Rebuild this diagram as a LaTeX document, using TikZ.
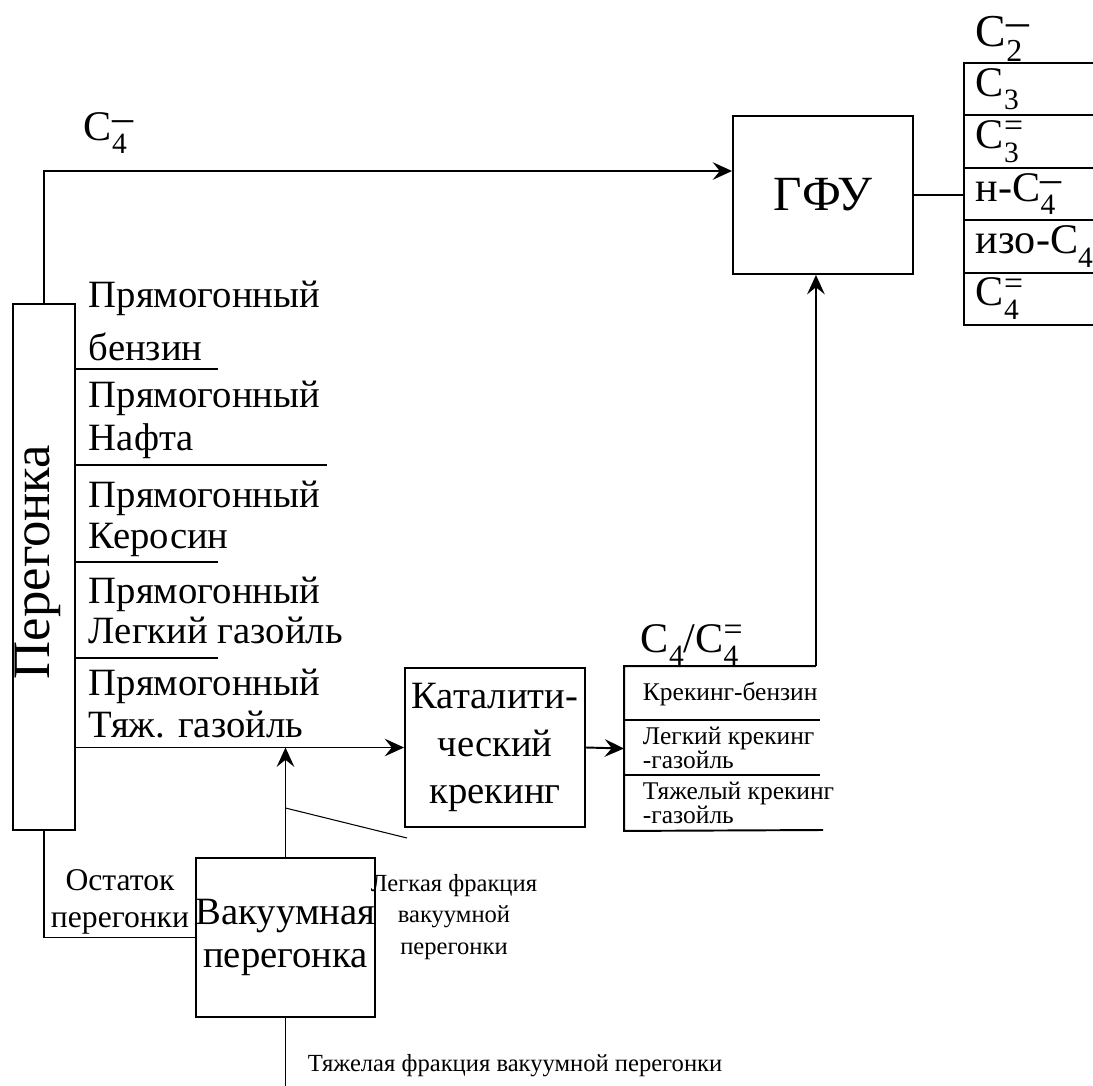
\documentclass[tikz,border=0pt]{standalone}
\usepackage{fontspec}
\usepackage{graphicx}
\setmainfont{Liberation Serif}
\usetikzlibrary{arrows.meta}

\newcommand{\Cs}[1]{C\raisebox{-0.33em}{\scalebox{0.7}{#1}}}
\newcommand{\Cf}[2]{C\rlap{\raisebox{0.2em}{#2}}\raisebox{-0.33em}{\scalebox{0.7}{#1}}}
\newcommand{\eq}{\raisebox{0.08em}{\scalebox{0.8}{=}}}

\begin{document}
\begin{tikzpicture}[
	x=0.02cm, y=-0.02cm,
	line width=1.1pt,
	box/.style={draw, rectangle, inner sep=0pt, align=center, font=\fontsize{22}{27}\selectfont},
	lbl/.style={anchor=base west, inner sep=0pt, font=\fontsize{22}{26}\selectfont},
	chem/.style={anchor=base west, inner sep=0pt, font=\fontsize{24}{28}\selectfont},
	listrow/.style={draw, anchor=west, minimum height=1.048cm, text width=2.6cm, inner xsep=0.24cm, inner ysep=0pt, align=left, font=\fontsize{24}{28}\selectfont},
	small/.style={inner sep=0pt, align=center, font=\fontsize{14}{18}\selectfont},
	prodtxt/.style={anchor=west, inner sep=0pt, align=left, font=\fontsize{14.5}{14}\selectfont},
	flow/.style={-{Stealth[length=11pt,width=10pt,inset=4pt]}},
	leader/.style={line width=0.6pt}
	]
	\useasboundingbox (0,0) rectangle (1093,1086);

	% Перегонка и прямогонные фракции
	\node[box, minimum width=1.24cm, minimum height=10.52cm] (pereg) at (44,567) {};
	\node[rotate=90, inner sep=0pt, font=\fontsize{30}{30}\selectfont] (peregtxt) at (38,562) {Перегонка};
	\foreach \t/\y [count=\i] in {Прямогонный/307, бензин/360, Прямогонный/407, Нафта/450, Прямогонный/507, Керосин/548, Прямогонный/603, Легкий газойль/643, Прямогонный/695, Тяж. газойль/737}
		\node[lbl] (s\i) at (88,\y) {\t};
	\foreach \y/\xe in {369/218, 465/327, 562/218, 658/218}
		\draw (75,\y) -- (\xe,\y);

	% ГФУ и её продукты
	\node[box, minimum width=3.6cm, minimum height=3.16cm, font=\fontsize{28}{30}\selectfont] (gfu) at (823,195) {ГФУ};
	\draw[flow] (pereg.north) |- ([yshift=0.48cm]gfu.west);
	\node[chem] (c4) at (83,140) {\Cf{4}{–}};
	\node[chem, font=\fontsize{26}{28}\selectfont] (c2) at (975,46) {\Cf{2}{–}};
	\foreach \t [count=\i] in {\Cs{3}, \Cf{3}{\eq}, н-\Cf{4}{–}, изо-\Cs{4}, \Cf{4}{\eq}}
		\node[listrow] (r\i) at (963,{89.2+(\i-1)*52.4}) {\t};
	\draw (gfu.east) -- (gfu.east -| r3.west);

	% Каталитический крекинг
	\node[box, minimum width=3.6cm, minimum height=3.18cm] (crack) at (495,747.5) {Каталити-\\ческий\\крекинг};
	\draw[flow] (pereg.east |- crack.west) -- (crack.west);
	\node[minimum width=3.8cm, minimum height=3.26cm, inner sep=0pt] (prod) at (720,748.5) {};
	\draw[flow] (crack.east) -- (prod.west);
	\draw (prod.north east) -- (prod.north west) -- (prod.south west) -- (823,830);
	\draw (625,720) -- (820,720) (625,775) -- (820,775);
	\draw[flow] (prod.north east) -- (prod.north east |- gfu.south);
	\node[chem] (c4c4) at (640,652) {\Cs{4}/\Cf{4}{\eq}};
	\node[prodtxt] (p1) at (642,694) {Крекинг-бензин};
	\node[prodtxt] (p2) at (642,748) {Легкий крекинг\\-газойль};
	\node[prodtxt] (p3) at (642,803) {Тяжелый крекинг\\-газойль};

	% Вакуумная перегонка
	\node[box, minimum width=3.58cm, minimum height=3.18cm, font=\fontsize{22}{24}\selectfont] (vac) at (285.5,937.5) {Вакуумная\\перегонка};
	\draw[flow] (vac.north) -- (vac.north |- crack.west);
	\draw (pereg.south) |- (vac.west);
	\node[small, font=\fontsize{18}{21}\selectfont] (resid) at (120,902) {Остаток\\перегонки};
	\coordinate (lfjoin) at (285.5,808);
	\coordinate (lftip) at (407,838);
	\draw[leader] (lfjoin) -- (lftip);
	\node[small] (lightfr) at (454,917) {Легкая фракция\\вакуумной\\перегонки};
	\coordinate (heavyend) at (285.5,1086);
	\draw (vac.south) -- (heavyend);
	\node[anchor=base west, inner sep=0pt, font=\fontsize{14}{16}\selectfont] (heavyfr) at (307,1071) {Тяжелая фракция вакуумной перегонки};
\end{tikzpicture}
\end{document}
